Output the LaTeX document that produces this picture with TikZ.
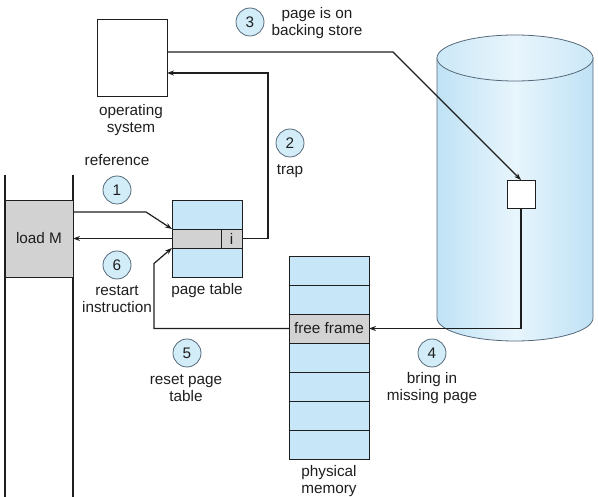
\documentclass[tikz,border=0pt]{standalone}
\usepackage{fontspec}
\setmainfont{Liberation Sans}
\usetikzlibrary{arrows.meta}
\definecolor{ptblue}{HTML}{C7E6F8}
\definecolor{cylblue}{HTML}{BFE2F5}
\definecolor{cyllight}{HTML}{E8F5FC}
\definecolor{boxgray}{HTML}{D2D2D2}
\definecolor{circfill}{HTML}{D2ECF8}
\definecolor{linecol}{HTML}{1E1E1E}
\definecolor{txtcol}{HTML}{1E1E1E}
\definecolor{cyledge}{HTML}{56697A}
\tikzset{
  every node/.style={font=\fontsize{15.3}{17}\selectfont, text=txtcol},
  lbl/.style={align=center, inner sep=0pt},
  numc/.style={circle, draw=cyledge, fill=circfill, minimum size=28pt, inner sep=0pt, line width=0.8pt},
  cell/.style={draw=linecol, line width=0.9pt, outer sep=0pt, inner sep=0pt},
  memrow/.style={cell, fill=ptblue, minimum width=80pt, minimum height=29pt},
  arr/.style={draw=linecol, line width=1.2pt, -{Stealth[length=7pt,width=5pt]}},
  ln/.style={draw=linecol, line width=1.1pt}
}
\begin{document}
\begin{tikzpicture}[x=1pt,y=-1pt]
\useasboundingbox (0,0) rectangle (598,497);
% cylinder (backing store)
\path[left color=cylblue, right color=cylblue, middle color=cyllight]
  (437,58) -- (437,318) arc[start angle=180, end angle=0, x radius=78, y radius=23] -- (593,58) -- cycle;
\draw[cyledge, line width=0.8pt] (437,58) -- (437,318) arc[start angle=180, end angle=0, x radius=78, y radius=23] -- (593,58);
\draw[cyledge, line width=0.8pt, left color=cylblue!80, right color=cylblue!80, middle color=cyllight] (515,58) ellipse[x radius=78, y radius=23];
\node[cell, fill=white, minimum width=28pt, minimum height=28pt] (blk) at (521,194) {};
% operating system
\node[cell, fill=white, minimum width=70pt, minimum height=77pt] (os) at (132,57.5) {};
\node[lbl] (oslbl) at (131,120) {operating\\system};
% program
\draw[ln] (5,175) -- (5,497);
\draw[ln] (73,175) -- (73,497);
\node[cell, fill=boxgray, minimum width=68pt, minimum height=77pt] (loadm) at (39,238.5) {load M};
% page table
\node[cell, fill=ptblue, minimum width=70pt, minimum height=77pt] (pt) at (207,238.5) {};
\node[cell, fill=boxgray, minimum width=70pt, minimum height=19pt] (ptrow) at (207,238.5) {};
\node[cell, fill=boxgray, minimum width=21pt, minimum height=19pt] (icell) at (231.5,238.5) {i};
\node[lbl] (ptlbl) at (207,291) {page table};
% physical memory
\node[memrow] (m1) at (329,270.5) {};
\node[memrow] (m2) at (329,299.5) {};
\node[memrow, fill=boxgray] (ff) at (329,328.5) {free frame};
\node[memrow] (m4) at (329,357.5) {};
\node[memrow] (m5) at (329,386.5) {};
\node[memrow] (m6) at (329,415.5) {};
\node[memrow] (m7) at (329,444.5) {};
\node[lbl] (pmlbl) at (329,481) {physical\\memory};
% step labels
\node[lbl] (reflbl) at (117,160) {reference};
\node[numc] (c1) at (117,190) {1};
\node[numc] (c2) at (290,143) {2};
\node[lbl] (traplbl) at (290,171) {trap};
\node[numc] (c3) at (250,22) {3};
\node[lbl] (c3lbl) at (317,23) {page is on\\backing store};
\node[numc] (c4) at (432,353) {4};
\node[lbl] (c4lbl) at (432,388) {bring in\\missing page};
\node[numc] (c5) at (187,353) {5};
\node[lbl] (c5lbl) at (186,388) {reset page\\table};
\node[numc] (c6) at (117,265) {6};
\node[lbl] (c6lbl) at (117,299) {restart\\instruction};
% connectors
\draw[arr] ([yshift=26.5pt]loadm.east) -- ++(73,0) -- (ptrow.north west);
\draw[arr] (icell.east) -- ++(26,0) |- ([yshift=-15.5pt]os.east);
\draw[arr] ([yshift=5.5pt]os.east) -- ++(226,0) -- (blk.north);
\draw[arr] (blk.south) |- (ff.east);
\draw[arr] (ff.west) -- ++(-135,0) -- ++(0,-65) -- (ptrow.south west);
\draw[arr] (ptrow.west) -- (loadm.east);
\end{tikzpicture}
\end{document}
